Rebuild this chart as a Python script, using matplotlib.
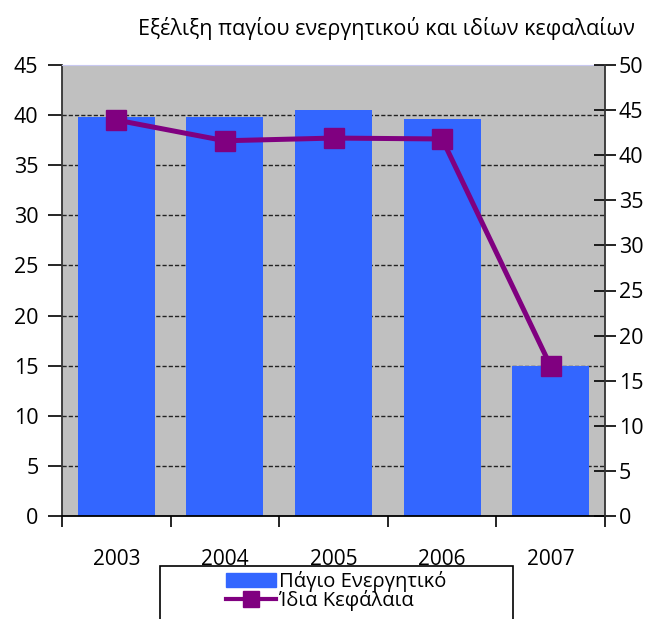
import numpy as np
import matplotlib
matplotlib.use("Agg")
import matplotlib.pyplot as plt
from matplotlib.patches import Rectangle
from matplotlib.lines import Line2D

plt.rcParams['font.family'] = ['Open Sans', 'DejaVu Sans']

# Data
years = ["2003", "2004", "2005", "2006", "2007"]
fixed_assets = [39.8, 39.8, 40.5, 39.6, 15.0]      # left axis (bars)
equity = [43.9, 41.6, 41.9, 41.8, 16.6]            # right axis (line)
bar_label = "Πάγιο Ενεργητικό"
line_label = "Ίδια Κεφάλαια"
title = "Εξέλιξη παγίου ενεργητικού και ιδίων κεφαλαίων"

W, H = 653, 619
fig = plt.figure(figsize=(W / 100, H / 100), dpi=100)
ax = fig.add_axes([62 / W, 1 - 516 / H, (605 - 62) / W, (516 - 65) / H])
ax.set_facecolor("#c0c0c0")

x = np.arange(len(years))
ax.bar(x, fixed_assets, width=0.71, color="#3366ff", zorder=2)
ax.set_xlim(-0.5, len(years) - 0.5)
ax.set_ylim(0, 45)
ax.set_yticks(np.arange(0, 46, 5))
for y in range(5, 45, 5):
    ax.axhline(y, color="#222222", lw=1.0, ls=(0, (3, 1.5)), zorder=1)

# x ticks at boundaries, labels at centers
ax.set_xticks(np.arange(-0.5, len(years), 1.0))
ax.set_xticklabels([])
ax.set_xticks(x, minor=True)
ax.set_xticklabels(years, minor=True, fontsize=15)
ax.tick_params(axis="x", which="major", direction="out", length=8, width=1.2)
ax.tick_params(axis="x", which="minor", length=0, pad=24)
ax.tick_params(axis="y", direction="out", length=10, width=1.2, labelsize=15.5, pad=7)

ax.spines["top"].set_color("#c8c8f0")
ax.spines["left"].set_color("#333333")
ax.spines["right"].set_visible(False)
for s in ["left", "bottom"]:
    ax.spines[s].set_linewidth(1.3)

ax2 = ax.twinx()
ax2.set_ylim(0, 50)
ax2.set_yticks(np.arange(0, 51, 5))
ax2.plot(x, equity, color="#800080", lw=3.6, marker="s", markersize=14.5, zorder=3)
ax2.tick_params(axis="y", direction="inout", length=16, width=1.2, labelsize=15.5, pad=2)
ax2.spines["right"].set_color("#333333")
ax2.spines["right"].set_linewidth(1.3)
for s in ["top", "left", "bottom"]:
    ax2.spines[s].set_visible(False)

fig.text(635 / W, 1 - 28 / H, title, ha="right", va="center", fontsize=15.5)

# legend box (cut by the figure edge as in the reference)
fig.patches.append(Rectangle((160 / W, 1 - 640 / H), (513 - 160) / W, (640 - 566) / H,
                             transform=fig.transFigure, fill=False, ec="black", lw=1.2))
handles = [Rectangle((0, 0), 1, 1, color="#3366ff"),
           Line2D([0], [0], color="#800080", lw=3, marker="s", markersize=12)]
fig.legend(handles, [bar_label, line_label], loc="upper center",
           bbox_to_anchor=(336 / W, 1 - 561 / H), frameon=False, fontsize=14.5,
           handlelength=2.5, handletextpad=0.15, labelspacing=-0.1, borderpad=0)

fig.savefig("out.png", dpi=100)
